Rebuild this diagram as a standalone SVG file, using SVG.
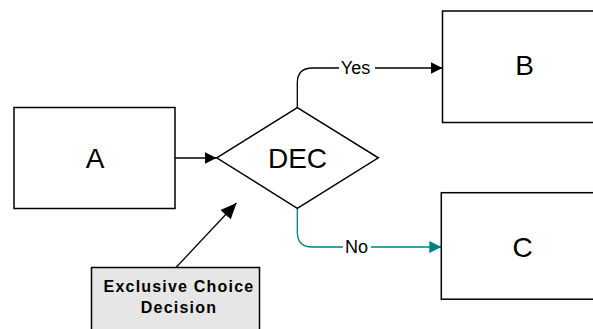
<svg xmlns="http://www.w3.org/2000/svg" width="593" height="329" viewBox="0 0 593 329">
  <style>
    .shape { fill: #ffffff; stroke: #000000; stroke-width: 1.5; }
    .note { fill: #e6e6e6; stroke: #000000; stroke-width: 1.5; }
    .label { font-family: "Liberation Sans", Arial, sans-serif; font-size: 28px; fill: #000000; text-anchor: middle; }
    .edge-label { font-family: "Liberation Sans", Arial, sans-serif; font-size: 18px; fill: #000000; text-anchor: middle; }
    .note-label { font-family: "Liberation Sans", Arial, sans-serif; font-size: 16px; font-weight: bold; letter-spacing: 1.2px; fill: #000000; text-anchor: middle; }
    .edge { fill: none; stroke: #000000; stroke-width: 1.3; }
    .edge.teal { stroke: #008080; }
  </style>
  <defs>
    <marker id="arrow" markerUnits="userSpaceOnUse" markerWidth="12" markerHeight="12" refX="12" refY="6" orient="auto">
      <path d="M0,0 L12,6 L0,12 Z" fill="#000000"/>
    </marker>
    <marker id="arrow-teal" markerUnits="userSpaceOnUse" markerWidth="12" markerHeight="12" refX="12" refY="6" orient="auto">
      <path d="M0,0 L12,6 L0,12 Z" fill="#008080"/>
    </marker>
    <marker id="arrow-big" markerUnits="userSpaceOnUse" markerWidth="16" markerHeight="14" refX="16" refY="7" orient="auto">
      <path d="M0,0 L16,7 L0,14 Z" fill="#000000"/>
    </marker>
  </defs>

  <!-- connectors -->
  <g id="connectors">
    <path class="edge" d="M175,158 H216.5" marker-end="url(#arrow)"/>
    <path class="edge" d="M297.3,107.7 V83 Q297.3,68 312.3,68 H442.5" marker-end="url(#arrow)"/>
    <path class="edge teal" d="M297.3,208.3 V232 Q297.3,247 312.3,247 H441.3" marker-end="url(#arrow-teal)"/>
    <path class="edge" d="M176,267.5 L236.5,203" marker-end="url(#arrow-big)"/>
    <!-- edge labels -->
    <rect x="339" y="57" width="36" height="20" fill="#ffffff"/>
    <text class="edge-label" x="355.5" y="73.5">Yes</text>
    <rect x="343" y="236" width="28" height="20" fill="#ffffff"/>
    <text class="edge-label" x="356.5" y="252.5">No</text>
  </g>

  <g id="node-a">
    <rect class="shape" x="14" y="107.5" width="161" height="101"/>
    <text class="label" x="95" y="168.3">A</text>
  </g>

  <g id="node-dec">
    <path class="shape" d="M216.7,157.8 L297.3,107.7 L378.3,157.8 L297.3,208.3 Z"/>
    <text class="label" x="297.5" y="167.8">DEC</text>
  </g>

  <g id="node-b">
    <rect class="shape" x="442.5" y="11" width="160" height="111.5"/>
    <text class="label" x="524.7" y="74.5">B</text>
  </g>

  <g id="node-c">
    <rect class="shape" x="441.3" y="192.7" width="160" height="106.5"/>
    <text class="label" x="522.7" y="256.5">C</text>
  </g>

  <g id="note">
    <rect class="note" x="91.5" y="267.5" width="168" height="70"/>
    <text class="note-label" x="179" y="291.7">Exclusive Choice</text>
    <text class="note-label" x="179" y="313.3">Decision</text>
  </g>
</svg>
